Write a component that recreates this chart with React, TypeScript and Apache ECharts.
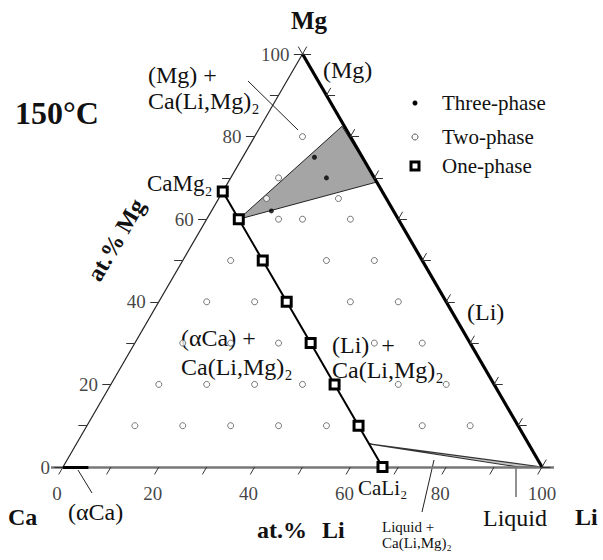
import { useEffect, useRef } from "react";
import * as echarts from "echarts";

// Compositions are written as [at.% Li, at.% Mg]; Ca makes up the rest.
const tern = (li: number, mg: number): [number, number] => [li + mg / 2, mg];

// Ca(Li,Mg)2 Laves phase line, CaMg2 -> CaLi2 (one-phase samples)
const onePhase: [number, number][] = [
  [0, 66.7], [6.7, 60], [16.7, 50], [26.7, 40], [36.7, 30], [46.7, 20], [56.7, 10], [66.7, 0],
];
const threePhase: [number, number][] = [[15, 75], [20, 70], [12.5, 62]];
const twoPhase: [number, number][] = [
  [10, 10], [20, 10], [30, 10], [40, 10], [50, 10], [70, 10], [80, 10],
  [10, 20], [20, 20], [30, 20], [40, 20], [60, 20], [70, 20],
  [10, 30], [20, 30], [30, 30], [50, 30], [60, 30],
  [10, 40], [20, 40], [40, 40], [50, 40],
  [10, 50], [30, 50], [40, 50],
  [15, 60], [20, 60], [30, 60],
  [10, 65], [25, 65],
  [10, 70],
  [10, 80],
];
// (Mg) + (Li) + Ca(Li,Mg)2 tie triangle
const threePhaseRegion: [number, number][] = [[6.7, 60], [17, 82.5], [31, 69]];
// Liquid + Ca(Li,Mg)2 sliver near the Li corner
const liquidRegion: [number, number][] = [[61.1, 5.6], [100, 0], [95, 0]];
// (αCa) solid solution along the Ca-Li edge
const alphaCaRange: [number, number][] = [[0, 0], [5.3, 0]];

const edgeTicks = [0, 10, 20, 30, 40, 50, 60, 70, 80, 90, 100];
const mgTickLabels = [0, 20, 40, 60, 80, 100];
const liTickLabels = [0, 20, 40, 60, 80, 100];

const FONT = '"Liberation Serif", "Times New Roman", serif';
const TICK = 1.8;

function seg(a: [number, number], b: [number, number], style?: object) {
  return style ? { coords: [a, b], lineStyle: { opacity: 1, ...style } } : { coords: [a, b] };
}

function polygonSeries(pts: [number, number][], fill: string, stroke: string, lw: number) {
  return {
    type: "custom",
    coordinateSystem: "cartesian2d",
    silent: true,
    data: [0],
    renderItem: (_p: any, api: any) => ({
      type: "polygon",
      shape: { points: pts.map((p) => api.coord(tern(p[0], p[1]))) },
      style: { fill, stroke, lineWidth: lw },
    }),
  };
}

function txt(text: string, x: number, y: number, size: number, opts: any = {}) {
  return {
    type: "text",
    x,
    y,
    rotation: opts.rotation || 0,
    style: {
      text,
      fill: "#111",
      font: `${opts.bold ? "bold " : ""}${size}px ${FONT}`,
      align: opts.align || "left",
      verticalAlign: "middle",
    },
  };
}

function leader(x1: number, y1: number, x2: number, y2: number) {
  return { type: "line", shape: { x1, y1, x2, y2 }, style: { stroke: "#222", lineWidth: 1 } };
}

export default function App() {
  const ref = useRef<HTMLDivElement>(null);

  useEffect(() => {
    if (!ref.current) return;
    const chart = echarts.init(ref.current, undefined, { renderer: "svg" });

    const ticks: any[] = [];
    edgeTicks.forEach((v) => {
      ticks.push(seg(tern(v, 0), tern(v, -TICK)));
      ticks.push(seg(tern(0, v), tern(-TICK, v)));
      ticks.push(seg(tern(100 - v, v), tern(100 - v + TICK, v)));
      ticks.push(seg(tern(100 - v, v), tern(100 - v, v + TICK)));
    });
    ticks.push(seg(tern(0, 100), tern(-TICK, 100 + TICK)));

    const option: any = {
      animation: false,
      backgroundColor: "#fff",
      grid: { left: 63, right: 61, top: 54, bottom: 93 },
      xAxis: { type: "value", min: 0, max: 100, show: false },
      yAxis: { type: "value", min: 0, max: 100, show: false },
      series: [
        polygonSeries(threePhaseRegion, "#a5a5a5", "#222", 1),
        polygonSeries(liquidRegion, "#c4c4c4", "#333", 1.2),
        {
          type: "lines",
          coordinateSystem: "cartesian2d",
          silent: true,
          clip: false,
          data: [
            seg(tern(-2.5, 0), tern(102.5, 0), { color: "#777", width: 2.5 }),
            seg(tern(0, 0), tern(0, 100), { color: "#222", width: 1.2 }),
            seg(tern(0, 100), tern(100, 0), { color: "#000", width: 3.2 }),
          ],
        },
        {
          type: "lines",
          coordinateSystem: "cartesian2d",
          silent: true,
          clip: false,
          lineStyle: { color: "#333", width: 1, opacity: 1 },
          data: ticks,
        },
        {
          type: "lines",
          coordinateSystem: "cartesian2d",
          silent: true,
          clip: false,
          lineStyle: { color: "#000", width: 3, opacity: 1 },
          data: [seg(tern(alphaCaRange[0][0], alphaCaRange[0][1]), tern(alphaCaRange[1][0], alphaCaRange[1][1]))],
        },
        {
          name: "One-phase",
          type: "line",
          silent: true,
          clip: false,
          data: onePhase.map((p) => tern(p[0], p[1])),
          lineStyle: { color: "#000", width: 2 },
          symbol: "rect",
          symbolSize: 9,
          itemStyle: { color: "#fff", borderColor: "#000", borderWidth: 3 },
          z: 5,
        },
        {
          name: "Two-phase",
          type: "scatter",
          silent: true,
          data: twoPhase.map((p) => tern(p[0], p[1])),
          symbol: "circle",
          symbolSize: 6,
          itemStyle: { color: "#fff", borderColor: "#555", borderWidth: 1 },
          z: 6,
        },
        {
          name: "Three-phase",
          type: "scatter",
          silent: true,
          data: threePhase.map((p) => tern(p[0], p[1])),
          symbol: "circle",
          symbolSize: 5,
          itemStyle: { color: "#000" },
          z: 6,
        },
        {
          type: "scatter",
          silent: true,
          clip: false,
          symbolSize: 0,
          data: mgTickLabels.map((v) => [...tern(0, v), v]),
          label: {
            show: true,
            position: "left",
            distance: 13,
            formatter: (p: any) => String(p.value[2]),
            color: "#111",
            fontSize: 19,
            fontFamily: FONT,
          },
        },
        {
          type: "scatter",
          silent: true,
          clip: false,
          symbolSize: 0,
          data: liTickLabels.map((v) => ({
            value: [...tern(v, 0), v],
            label: { offset: [v === 100 ? 0 : -6, 26] },
          })),
          label: {
            show: true,
            position: "inside",
            formatter: (p: any) => String(p.value[2]),
            color: "#111",
            fontSize: 19,
            fontFamily: FONT,
          },
        },
      ],
      graphic: [
        txt("Mg", 309, 20, 25, { bold: true, align: "center" }),
        txt("150°C", 15, 113, 32, { bold: true }),
        txt("(Mg) +", 148, 75, 24),
        txt("Ca(Li,Mg)₂", 148, 101, 24),
        leader(248, 81, 298, 130),
        txt("CaMg₂", 147, 183, 23),
        txt("(Mg)", 323, 70, 24),
        { type: "circle", shape: { cx: 415, cy: 103, r: 2.5 }, style: { fill: "#000" } },
        { type: "circle", shape: { cx: 415, cy: 137, r: 3 }, style: { fill: "#fff", stroke: "#555", lineWidth: 1 } },
        { type: "rect", shape: { x: 411, y: 162, width: 8, height: 8 }, style: { fill: "#fff", stroke: "#000", lineWidth: 3 } },
        txt("Three-phase", 442, 103, 21),
        txt("Two-phase", 442, 137, 21),
        txt("One-phase", 442, 166, 21),
        txt("at.% Mg", 116, 240, 24, { bold: true, align: "center", rotation: 1.04 }),
        txt("(αCa) +", 181, 338, 24),
        txt("Ca(Li,Mg)₂", 181, 367, 24),
        txt("(Li)  +", 332, 345, 24),
        txt("Ca(Li,Mg)₂", 332, 370, 24),
        txt("(Li)", 467, 312, 24),
        txt("CaLi₂", 358, 488, 21),
        txt("Ca", 8, 517, 24, { bold: true }),
        txt("(αCa)", 68, 512, 24),
        leader(78, 470, 92, 493),
        txt("at.%", 257, 530, 24, { bold: true }),
        txt("Li", 322, 530, 24, { bold: true }),
        txt("Liquid +", 382, 527, 15),
        txt("Ca(Li,Mg)₂", 382, 543, 15),
        leader(434, 460, 422, 512),
        txt("Liquid", 515, 518, 24, { align: "center" }),
        leader(516, 467, 516, 497),
        txt("Li", 575, 517, 24, { bold: true }),
      ],
    };

    chart.setOption(option);
    return () => chart.dispose();
  }, []);

  return (
    <div
      ref={ref}
      style={{ position: "fixed", left: 0, top: 0, width: 603, height: 560, background: "#fff" }}
    />
  );
}
